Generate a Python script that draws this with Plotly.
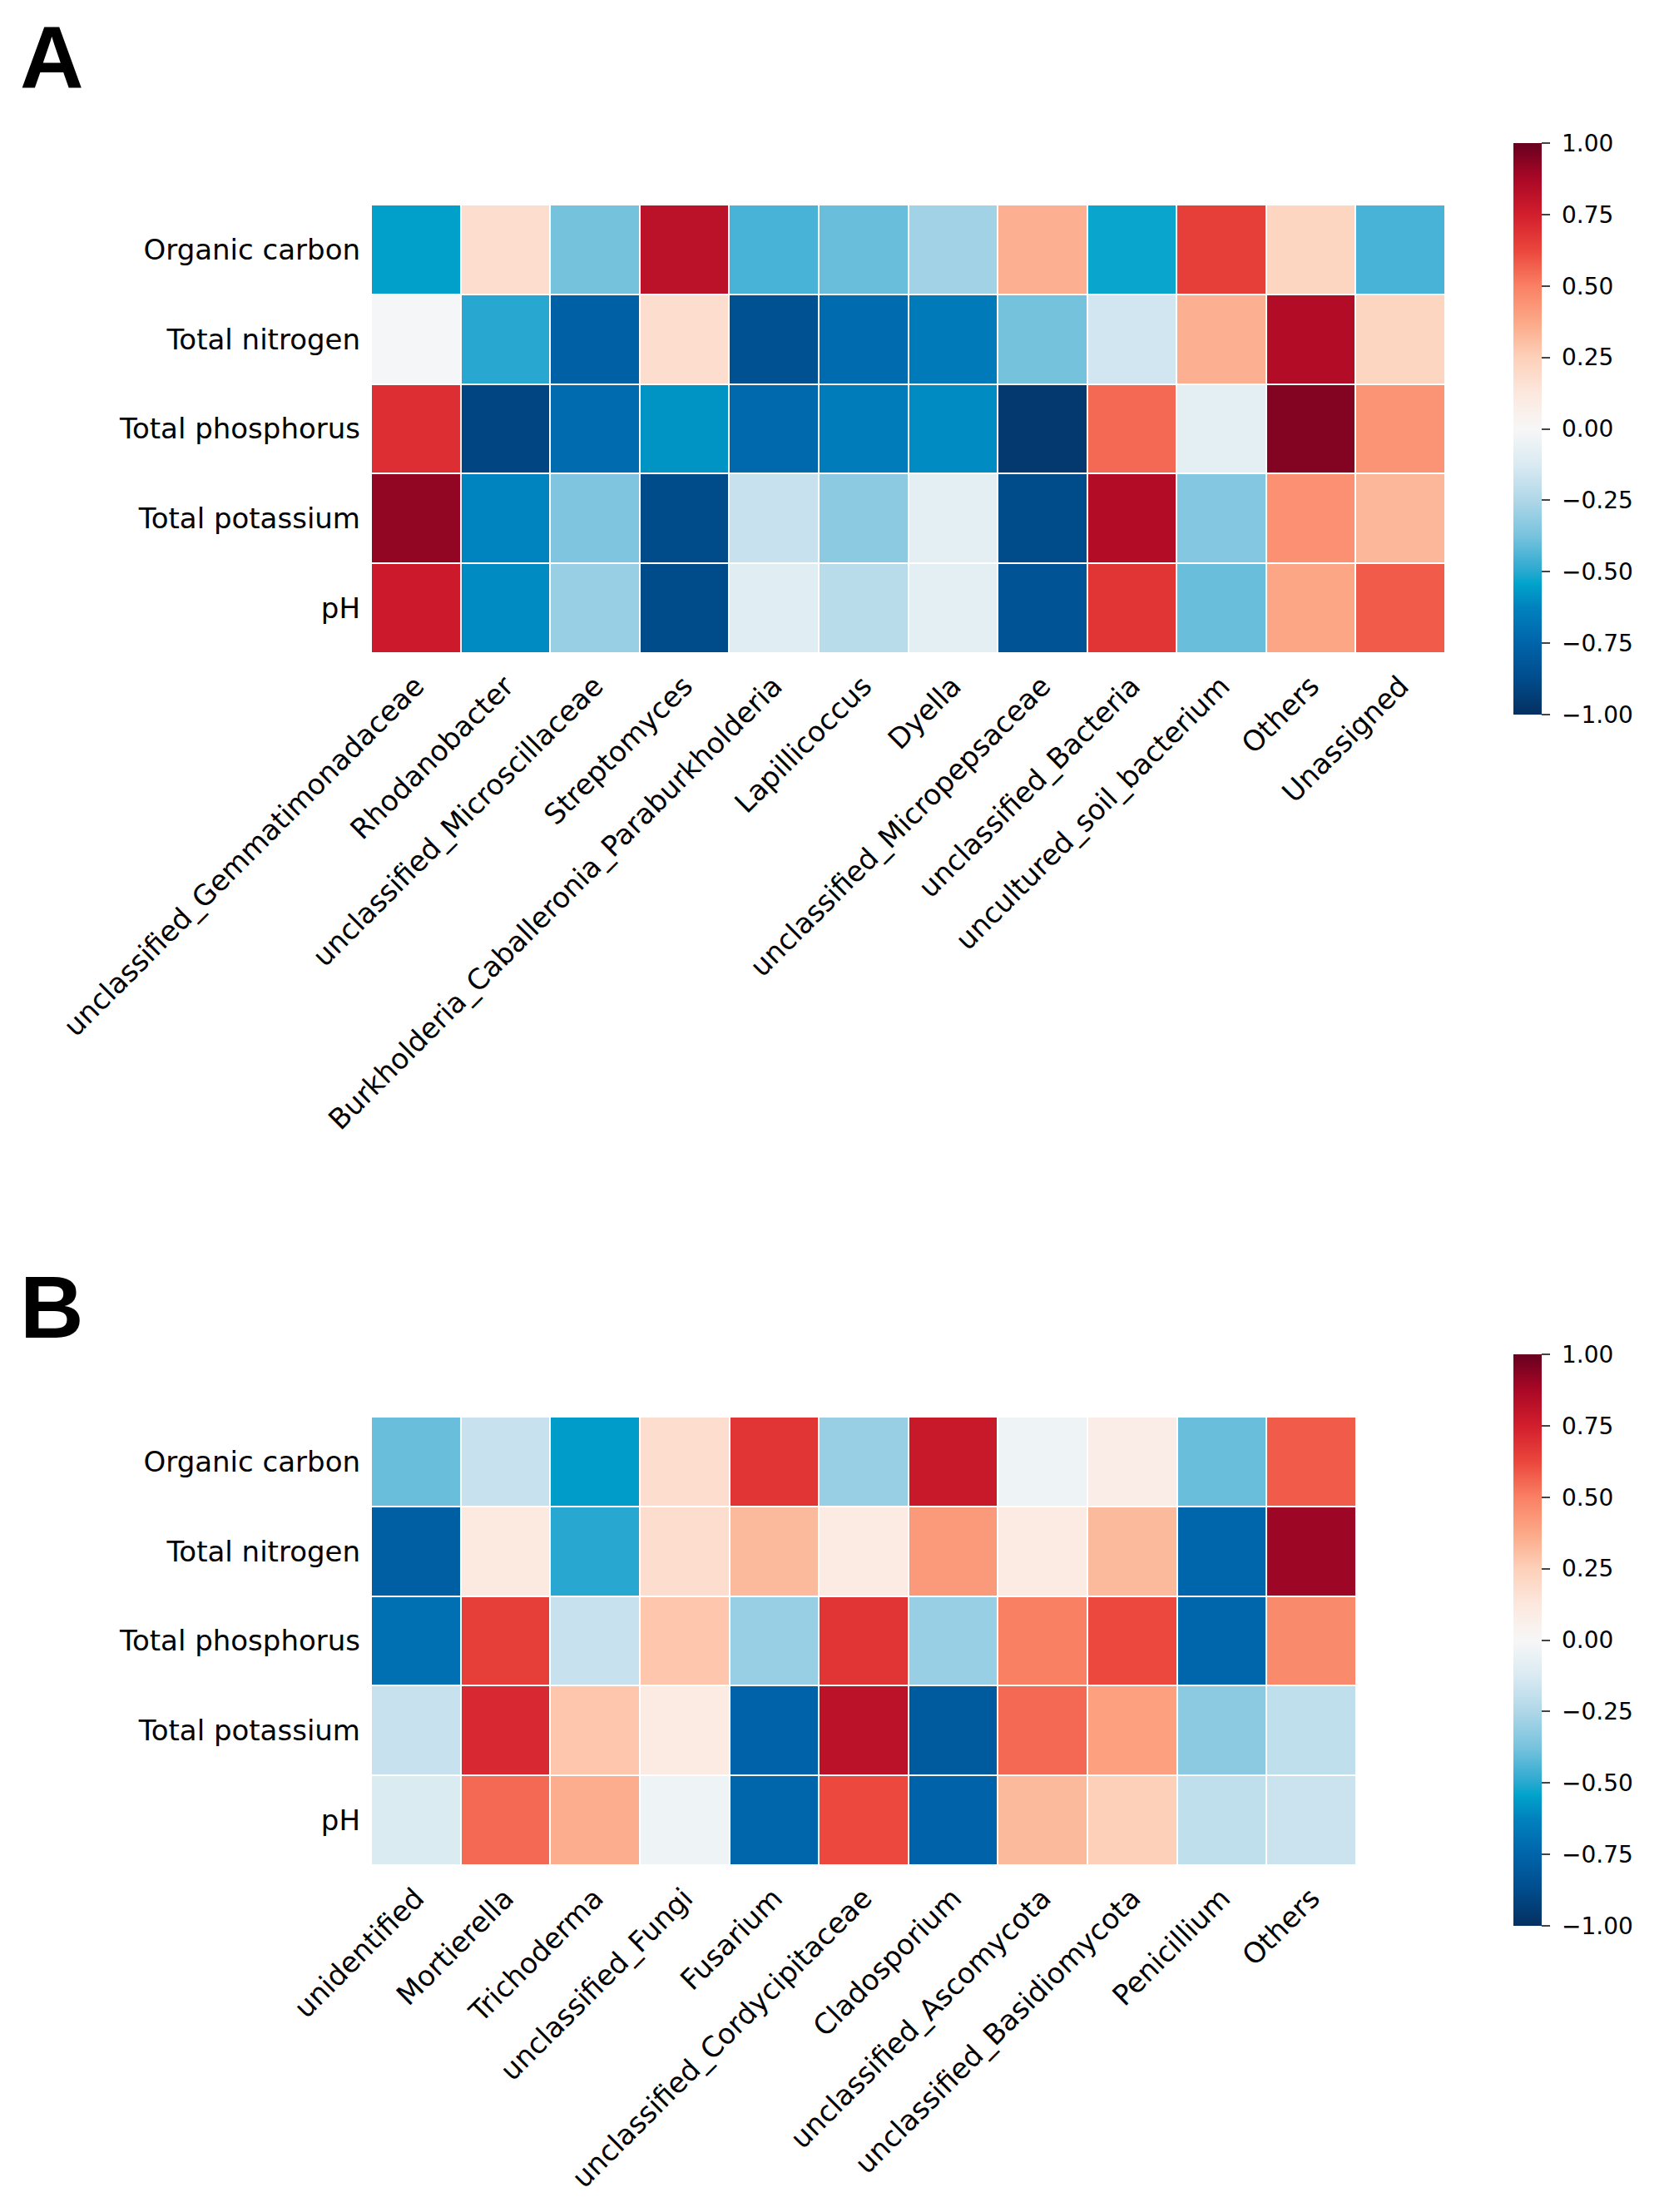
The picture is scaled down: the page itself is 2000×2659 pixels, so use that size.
import plotly.graph_objects as go

# soil properties (rows) shared by both panels
env_factors = ["Organic carbon", "Total nitrogen", "Total phosphorus", "Total potassium", "pH"]

# panel A: bacterial genera
bact_taxa = ["unclassified_Gemmatimonadaceae", "Rhodanobacter", "unclassified_Microscillaceae",
             "Streptomyces", "Burkholderia_Caballeronia_Paraburkholderia", "Lapillicoccus", "Dyella",
             "unclassified_Micropepsaceae", "unclassified_Bacteria", "uncultured_soil_bacterium",
             "Others", "Unassigned"]
bact_oc = [-0.55, 0.18, -0.38, 0.82, -0.45, -0.40, -0.28, 0.35, -0.53, 0.65, 0.22, -0.45]
bact_tn = [-0.01, -0.50, -0.77, 0.18, -0.85, -0.72, -0.66, -0.38, -0.15, 0.35, 0.85, 0.22]
bact_tp = [0.70, -0.90, -0.72, -0.58, -0.73, -0.65, -0.60, -0.96, 0.55, -0.08, 0.95, 0.44]
bact_tk = [0.92, -0.62, -0.36, -0.88, -0.18, -0.33, -0.08, -0.88, 0.85, -0.35, 0.45, 0.33]
bact_ph = [0.77, -0.60, -0.30, -0.88, -0.10, -0.22, -0.08, -0.84, 0.68, -0.40, 0.38, 0.58]

# panel B: fungal genera
fung_taxa = ["unidentified", "Mortierella", "Trichoderma", "unclassified_Fungi", "Fusarium",
             "unclassified_Cordycipitaceae", "Cladosporium", "unclassified_Ascomycota",
             "unclassified_Basidiomycota", "Penicillium", "Others"]
fung_oc = [-0.40, -0.18, -0.56, 0.18, 0.68, -0.30, 0.78, -0.04, 0.08, -0.40, 0.58]
fung_tn = [-0.78, 0.12, -0.50, 0.18, 0.32, 0.10, 0.42, 0.10, 0.32, -0.74, 0.90]
fung_tp = [-0.70, 0.65, -0.18, 0.28, -0.30, 0.68, -0.30, 0.50, 0.62, -0.74, 0.47]
fung_tk = [-0.18, 0.72, 0.28, 0.10, -0.76, 0.82, -0.80, 0.55, 0.40, -0.33, -0.20]
fung_ph = [-0.12, 0.55, 0.36, -0.04, -0.74, 0.62, -0.76, 0.32, 0.25, -0.20, -0.17]

cbar_ticks = [-1, -0.75, -0.5, -0.25, 0, 0.25, 0.5, 0.75, 1]
# nbsp in front gives the gap seen between tick and label
cbar_text = ["\u00a0" + f"{v:.2f}".replace("-", "\u2212") for v in cbar_ticks]

cscale = [
    [0.0, "rgb(5,48,97)"],
    [0.0625, "rgb(0,76,140)"],
    [0.125, "rgb(0,100,170)"],
    [0.1875, "rgb(0,130,190)"],
    [0.23, "rgb(0,164,204)"],
    [0.25, "rgb(40,168,208)"],
    [0.3125, "rgb(120,195,222)"],
    [0.375, "rgb(175,215,232)"],
    [0.4375, "rgb(218,234,242)"],
    [0.5, "rgb(247,247,247)"],
    [0.5625, "rgb(252,232,222)"],
    [0.625, "rgb(253,208,185)"],
    [0.6875, "rgb(252,168,135)"],
    [0.75, "rgb(250,128,100)"],
    [0.8125, "rgb(235,70,60)"],
    [0.875, "rgb(210,30,45)"],
    [0.9375, "rgb(170,8,38)"],
    [1.0, "rgb(103,0,31)"],
]

FONT = "DejaVu Sans"
W, H = 2000, 2659

fig = go.Figure()


def add_panel(z, xlabels, xa, ya, cb_top):
    fig.add_trace(go.Heatmap(
        z=z, x=xlabels, y=env_factors, xaxis=xa, yaxis=ya,
        colorscale=cscale, zmin=-1, zmax=1, xgap=2, ygap=2,
        colorbar=dict(
            x=1811 / W, xanchor="left", xpad=0, ypad=0, thickness=34,
            len=687 / H, lenmode="fraction", y=1 - cb_top / H, yanchor="top",
            outlinewidth=0, tickvals=cbar_ticks, ticktext=cbar_text,
            ticks="outside", ticklen=10, tickwidth=2,
            tickfont=dict(size=28, family=FONT, color="black"),
        ),
    ))


add_panel([bact_oc, bact_tn, bact_tp, bact_tk, bact_ph], bact_taxa, "x", "y", 164)
add_panel([fung_oc, fung_tn, fung_tp, fung_tk, fung_ph], fung_taxa, "x2", "y2", 1620)

ax_common = dict(showgrid=False, zeroline=False, showline=False, ticks="", automargin=False,
                 tickfont=dict(size=34, family=FONT, color="black"), ticklabelstandoff=12)

fig.update_layout(
    width=W, height=H, margin=dict(l=0, r=0, t=0, b=0),
    paper_bgcolor="white", plot_bgcolor="white",
    xaxis=dict(domain=[438 / W, 1729 / W], anchor="y", tickangle=-45, **ax_common),
    yaxis=dict(domain=[1 - 777 / H, 1 - 238 / H], anchor="x", autorange="reversed", **ax_common),
    xaxis2=dict(domain=[438 / W, 1622 / W], anchor="y2", tickangle=-45, **ax_common),
    yaxis2=dict(domain=[1 - 2234 / H, 1 - 1695 / H], anchor="x2", autorange="reversed", **ax_common),
    annotations=[
        dict(text="<b>A</b>", x=14 / W, y=1, xref="paper", yref="paper",
             xanchor="left", yanchor="top", showarrow=False,
             font=dict(size=106, family="Liberation Sans", color="black")),
        dict(text="<b>B</b>", x=14 / W, y=1 - 1502 / H, xref="paper", yref="paper",
             xanchor="left", yanchor="top", showarrow=False,
             font=dict(size=106, family="Liberation Sans", color="black")),
    ],
)

fig.write_html("out.html")
